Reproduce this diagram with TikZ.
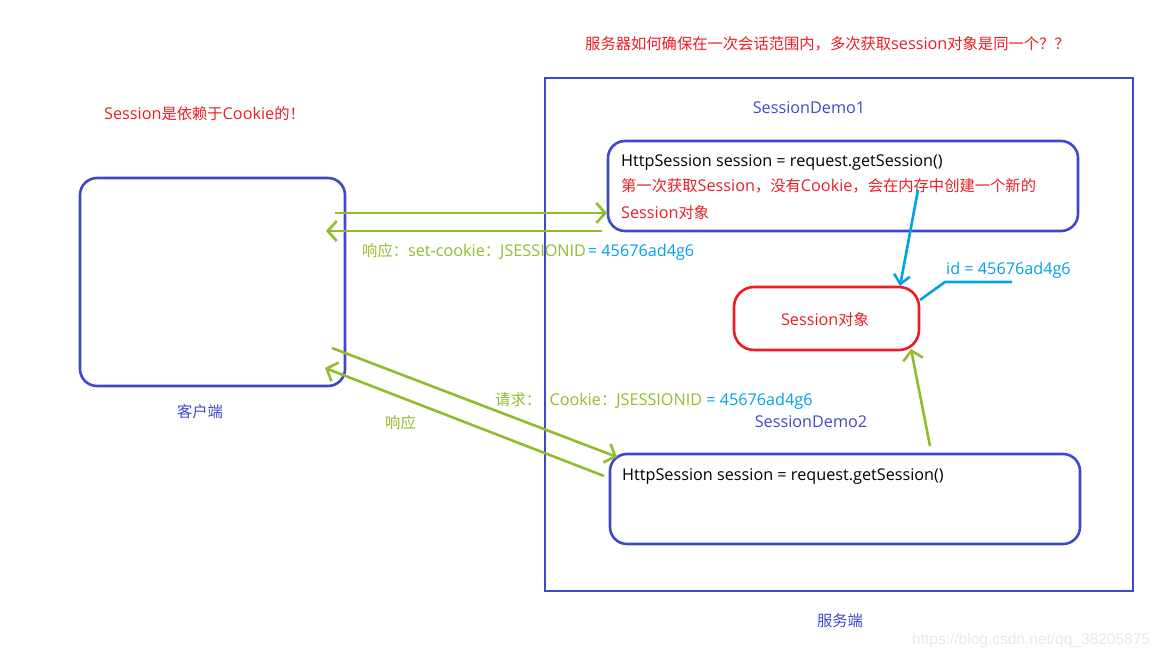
\documentclass[tikz,border=0pt]{standalone}
\usepackage{fontspec}
\setmainfont{Open Sans}[Scale=1.06]
\newfontfamily\cjk{Noto Sans CJK SC}
\newfontfamily\wmfont{Liberation Sans}
\newcommand{\zh}[1]{{\cjk #1}}
\usetikzlibrary{arrows.meta}
\definecolor{pblue}{RGB}{63,72,204}
\definecolor{pred}{RGB}{237,28,36}
\definecolor{pcyan}{RGB}{0,162,232}
\definecolor{pgreen}{RGB}{146,188,44}
\tikzset{
  box/.style={draw=pblue, line width=2.6pt, rounded corners=17pt, inner sep=0pt, anchor=center},
  txt/.style={inner sep=0pt, anchor=west, font=\fontsize{15.3}{18}\selectfont},
  garrow/.style={draw=pgreen, line width=2.6pt, -{Straight Barb[length=9pt,width=20pt,line width=2.6pt]}},
  carrow/.style={draw=pcyan, line width=2.6pt, -{Straight Barb[length=9pt,width=16pt,line width=2.6pt]}}
}
\begin{document}
\begin{tikzpicture}[x=1pt,y=-1pt]
\useasboundingbox (0,0) rectangle (1164,660);
% boxes
\node[box, minimum width=265pt, minimum height=208pt] (client) at (212.5,282) {};
\node[draw=pblue, line width=2.6pt, inner sep=0pt, minimum width=588pt, minimum height=513pt] (server) at (839,334.5) {};
\node[box, minimum width=470pt, minimum height=90pt] (demo1) at (843,186) {};
\node[box, draw=pred, rounded corners=20pt, minimum width=185pt, minimum height=63pt] (sess) at (826.5,318.5) {};
\node[box, minimum width=470pt, minimum height=90pt] (demo2) at (845,499) {};
% texts
\node[txt, text=pred] (title) at (585,44) {\zh{服务器如何确保在一次会话范围内，多次获取}session\zh{对象是同一个？？}};
\node[txt, text=pred] (note) at (104,114) {Session\zh{是依赖于}Cookie\zh{的！}};
\node[txt, text=pblue, anchor=center] (clientlbl) at (200,412) {\zh{客户端}};
\node[txt, text=pblue, anchor=center] (serverlbl) at (840,621) {\zh{服务端}};
\node[txt, text=pblue, anchor=center] (d1lbl) at (809,108) {SessionDemo1};
\node[txt, text=pblue, anchor=center] (d2lbl) at (811,422) {SessionDemo2};
\node[txt] (code1) at (621,162) {HttpSession session = request.getSession()};
\node[txt, text=pred] (r1) at (621,186) {\zh{第一次获取}Session\zh{，没有}Cookie\zh{，会在内存中创建一个新的}};
\node[txt, text=pred] (r2) at (621,213) {Session\zh{对象}};
\node[txt] (code2) at (622,476) {HttpSession session = request.getSession()};
\node[txt, text=pred, anchor=center] (sesslbl) at (825,320) {Session\zh{对象}};
\node[txt, text=pgreen] (resp1) at (362,252) {\zh{响应：}set-cookie\zh{：}JSESSIONID\hspace{2pt}\textcolor{pcyan}{= 45676ad4g6}};
\node[txt, text=pgreen] (req) at (495,401) {\zh{请求：}\ \ Cookie\zh{：}JSESSIONID \textcolor{pcyan}{= 45676ad4g6}};
\node[txt, text=pgreen] (resp2) at (385,423) {\zh{响应}};
\node[txt, text=pcyan] (idlbl) at (946,270) {id = 45676ad4g6};
\node[inner sep=0pt, anchor=west, text=black!9, font=\wmfont\fontsize{15.5}{17}\selectfont] (wm) at (912,640) {https://blog.csdn.net/qq\_38205875};
% connector coordinates
\coordinate (a1s) at (335,213);
\coordinate (a1e) at (607,213);
\coordinate (a2s) at (602,231);
\coordinate (a2e) at (326,231);
\coordinate (a3s) at (332,348);
\coordinate (a3e) at (617,457);
\coordinate (a4s) at (604,476);
\coordinate (a4e) at (325,368);
\coordinate (a5s) at (930,446);
\coordinate (a5e) at (911,349);
\coordinate (b1s) at (918,190);
\coordinate (b1e) at (900,286);
\coordinate (idk) at (945,282);
\coordinate (idl) at (1012,282);
\coordinate (idb) at (920,300);
% connectors
\draw[garrow] (a1s) -- (a1e);
\draw[garrow] (a2s) -- (a2e);
\draw[garrow] (a3s) -- (a3e);
\draw[garrow] (a4s) -- (a4e);
\draw[garrow] (a5s) -- (a5e);
\draw[carrow] (b1s) -- (b1e);
\draw[draw=pcyan, line width=2.6pt] (idb) -- (idk) -- (idl);
\end{tikzpicture}
\end{document}
